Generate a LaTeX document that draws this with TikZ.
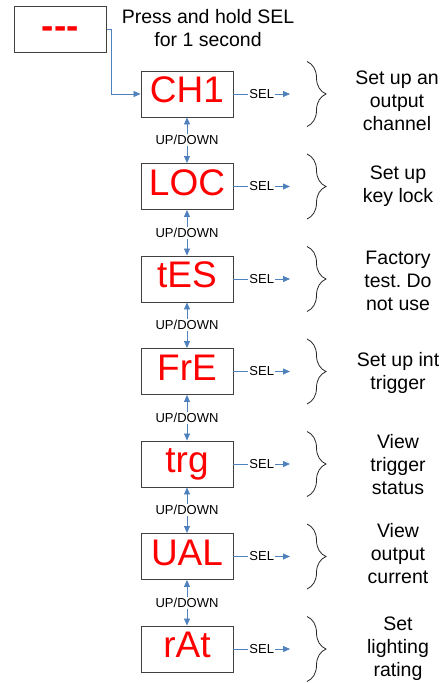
\documentclass[tikz,border=0pt]{standalone}
\usepackage{fontspec}
\setmainfont{Liberation Sans}
\usetikzlibrary{arrows.meta,decorations.pathreplacing}
\definecolor{lineblue}{RGB}{79,129,189}
\definecolor{boxgray}{RGB}{64,64,64}
\frenchspacing
\begin{document}
\begin{tikzpicture}[x=1pt,y=1pt,
  disp/.style={draw=boxgray, line width=0.9pt, minimum width=92pt, minimum height=46pt,
    inner sep=0pt, text=red, text height=27pt, text depth=10pt,
    font=\fontsize{37}{37}\selectfont},
  conn/.style={draw=lineblue, line width=0.8pt, -{Triangle[length=7pt,width=6pt]}},
  dconn/.style={draw=lineblue, line width=0.8pt,
    {Triangle[length=7pt,width=6pt]}-{Triangle[length=7pt,width=6pt]}},
  small/.style={fill=white, inner sep=1pt, font=\fontsize{13}{13}\selectfont},
  desc/.style={align=center, inner sep=0pt, font=\fontsize{19.5}{23}\selectfont},
  bracestyle/.style={draw=black!85, line width=0.8pt, decorate,
    decoration={brace, amplitude=19pt}}
]
\useasboundingbox (0,0) rectangle (445,-683);

% start box
\node[disp, font=\fontsize{37}{37}\selectfont\bfseries] (dash) at (60.3,-29.7) {-\kern0pt-\kern0pt-};
\node[desc] (press) at (208,-28.5) {Press and hold SEL\\for 1 second};

% display boxes
\node[disp] (ch1) at (187,-94)    {CH1};
\node[disp] (loc) at (187,-186.5) {LOC};
\node[disp] (tes) at (187,-279)   {tES};
\node[disp] (fre) at (187,-371.5) {FrE};
\node[disp] (trg) at (187,-464)   {trg};
\node[disp] (ual) at (187,-556.5) {UAL};
\node[disp] (rat) at (187,-649)   {rAt};

% entry connector
\draw[conn] (dash.east) -- ++(4.5,0) |- (ch1.west);

% UP/DOWN connectors
\foreach \a/\b in {ch1/loc, loc/tes, tes/fre, fre/trg, trg/ual, ual/rat}
  \draw[dconn] (\a.south) -- node[small] {UP/DOWN} (\b.north);

% SEL connectors and braces
\foreach \n/\y in {ch1/-94, loc/-186.5, tes/-279, fre/-371.5, trg/-464, ual/-556.5, rat/-649} {
  \coordinate (\n-sel) at (290,\y);
  \draw[conn] (\n.east) -- node[small] {SEL} (\n-sel);
  \coordinate (\n-bt) at (307,\y+32.5);
  \coordinate (\n-bb) at (307,\y-32.5);
  \draw[bracestyle] (\n-bt) -- (\n-bb);
}

% descriptions
\node[desc] (d1) at (397,-101)   {Set up an\\output\\channel};
\node[desc] (d2) at (398,-186.5) {Set up\\key lock};
\node[desc] (d3) at (398,-281)   {Factory\\test. Do\\not use};
\node[desc] (d4) at (398,-372.5) {Set up int\\trigger};
\node[desc] (d5) at (398,-465)   {View\\trigger\\status};
\node[desc] (d6) at (398,-554)   {View\\output\\current};
\node[desc] (d7) at (398,-649)   {Set\\lighting\\rating};
\end{tikzpicture}
\end{document}
